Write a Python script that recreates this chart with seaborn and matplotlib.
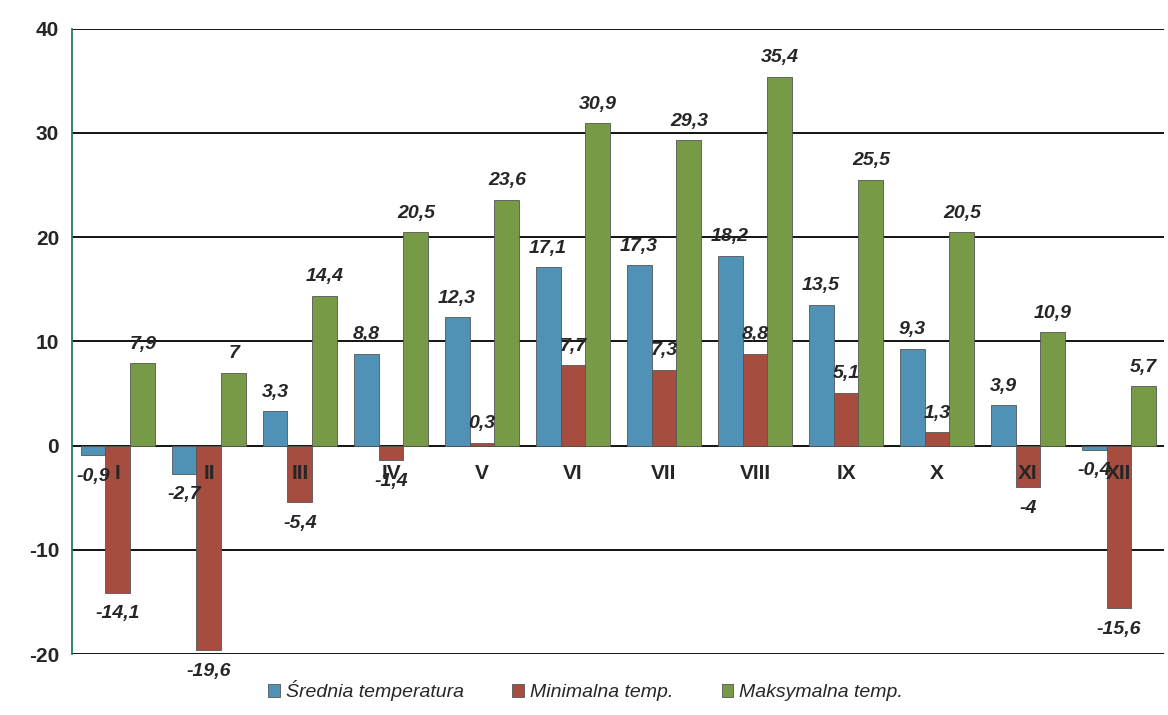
import pandas as pd
import matplotlib.pyplot as plt
import seaborn as sns

# Monthly temperature data
months = ['I', 'II', 'III', 'IV', 'V', 'VI', 'VII', 'VIII', 'IX', 'X', 'XI', 'XII']
srednia = [-0.9, -2.7, 3.3, 8.8, 12.3, 17.1, 17.3, 18.2, 13.5, 9.3, 3.9, -0.4]
minimalna = [-14.1, -19.6, -5.4, -1.4, 0.3, 7.7, 7.3, 8.8, 5.1, 1.3, -4, -15.6]
maksymalna = [7.9, 7, 14.4, 20.5, 23.6, 30.9, 29.3, 35.4, 25.5, 20.5, 10.9, 5.7]
series_names = ['Średnia temperatura', 'Minimalna temp.', 'Maksymalna temp.']
colors = ['#3f97c6', '#b8402f', '#78a838']

df = pd.DataFrame({'miesiac': months, series_names[0]: srednia,
                   series_names[1]: minimalna, series_names[2]: maksymalna})
df = df.melt(id_vars='miesiac', var_name='seria', value_name='temp')

sns.set_style('white')
plt.rcParams['font.family'] = ['Liberation Sans', 'DejaVu Sans']
plt.rcParams['axes.unicode_minus'] = False

fig = plt.figure(figsize=(11.68, 7.15), dpi=100)
ax = fig.add_axes([0.062, 0.085, 0.935, 0.875])

sns.barplot(data=df, x='miesiac', y='temp', hue='seria', palette=colors,
            width=0.82, edgecolor='#555555', linewidth=0.6, ax=ax, legend=True)

ax.set_ylim(-20, 40)
ax.set_xlim(-0.5, 11.5)
ax.set_yticks(range(-20, 41, 10))
ax.tick_params(axis='y', labelsize=15, length=6, width=1.2)
for lbl in ax.get_yticklabels():
    lbl.set_fontweight('bold')
ax.set_xticks([])
ax.set_xlabel('')
ax.set_ylabel('')
ax.yaxis.grid(True, color='black', linewidth=1.3)
ax.set_axisbelow(True)
for s in ['top', 'right', 'bottom']:
    ax.spines[s].set_visible(False)
ax.spines['left'].set_linewidth(1.3)
ax.spines['left'].set_color('#2a7a5a')

# month labels just below zero line
for i, m in enumerate(months):
    ax.text(i, -2.7, m, ha='center', va='center', fontsize=15, fontweight='bold')

# value labels above / below bars
for cont in ax.containers:
    for bar in cont:
        v = bar.get_height()
        x = bar.get_x() + bar.get_width() / 2
        txt = ('%g' % v).replace('.', ',')
        if v >= 0:
            ax.text(x, v + 1.0, txt, ha='center', va='bottom', fontsize=14,
                    fontweight='bold', fontstyle='italic')
        else:
            ax.text(x, v - 1.2, txt, ha='center', va='top', fontsize=14,
                    fontweight='bold', fontstyle='italic')

leg = ax.legend(loc='upper center', bbox_to_anchor=(0.47, -0.02), ncol=3,
                frameon=False, fontsize=14, handlelength=0.6, handleheight=0.6,
                columnspacing=2.5, handletextpad=0.3, borderpad=0.2)
for t in leg.get_texts():
    t.set_fontstyle('italic')

fig.savefig('out.png', dpi=100)
